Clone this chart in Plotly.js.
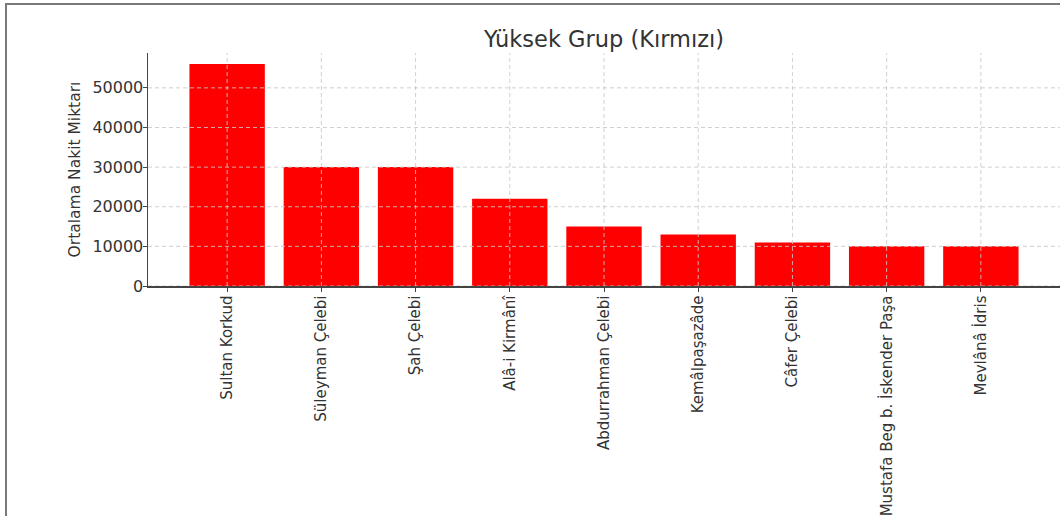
<!DOCTYPE html>
<html>
<head>
<meta charset="utf-8">
<script src="https://cdn.plot.ly/plotly-3.0.1.min.js"></script>
<style>
html,body{margin:0;padding:0;background:#fff;overflow:hidden;}
#plot{position:absolute;left:0;top:0;width:1060px;height:516px;}
#frame{position:absolute;left:5px;top:3px;width:1100px;height:600px;border-top:2px solid #7a7a7a;border-left:2px solid #7a7a7a;pointer-events:none;}
</style>
</head>
<body>
<div id="plot"></div>
<div id="frame"></div>
<script>
const categories = ["Sultan Korkud","Süleyman Çelebi","Şah Çelebi","Alâ-i Kirmânî","Abdurrahman Çelebi","Kemâlpaşazâde","Câfer Çelebi","Mustafa Beg b. İskender Paşa","Mevlânâ İdris"];
const values = [56000, 30000, 30000, 22000, 15000, 13000, 11000, 10000, 10000];
const yTicks = [0, 10000, 20000, 30000, 40000, 50000];
const chartTitle = "Yüksek Grup (Kırmızı)";
const yTitle = "Ortalama Nakit Miktarı";

const gridStyle = {color: "rgba(200,200,200,0.85)", width: 1, dash: "4px,3px"};
const shapes = [];
yTicks.forEach(v => shapes.push({type: "line", xref: "paper", x0: 0, x1: 1, yref: "y", y0: v, y1: v, line: gridStyle, layer: "above"}));
categories.forEach((c, i) => shapes.push({type: "line", xref: "x", x0: i, x1: i, yref: "paper", y0: 0, y1: 1, line: gridStyle, layer: "above"}));

const n = categories.length;
const ymax = Math.max(...values) * 1.05;

Plotly.newPlot("plot", [{
  type: "bar",
  x: categories,
  y: values,
  width: 0.8,
  marker: {color: "#ff0000", line: {width: 0}},
  hoverinfo: "x+y"
}], {
  width: 1060, height: 516,
  margin: {l: 148, r: 0, t: 53, b: 230, pad: 0},
  paper_bgcolor: "#ffffff", plot_bgcolor: "#ffffff",
  font: {family: "DejaVu Sans, sans-serif", color: "#333"},
  title: {text: chartTitle, font: {size: 22.5, color: "#333"}, xref: "paper", x: 0.5, xanchor: "center", yref: "container", y: 1 - 39/516, yanchor: "middle"},
  showlegend: false,
  bargap: 0.2,
  xaxis: {
    type: "category",
    range: [-0.84, n - 1 + 0.84],
    tickangle: -90,
    tickfont: {size: 15, color: "#333"},
    showgrid: false,
    showline: true, linecolor: "#444", linewidth: 1.5,
    ticks: "outside", ticklen: 4, tickcolor: "#444", tickwidth: 1,
    ticklabelstandoff: -2,
    zeroline: false,
    automargin: false
  },
  yaxis: {
    range: [0, ymax],
    tickvals: yTicks,
    ticktext: yTicks.map(String),
    tickfont: {size: 16, color: "#333"},
    title: {text: yTitle, font: {size: 15.5, color: "#333"}, standoff: 8},
    showgrid: false,
    showline: true, linecolor: "#444", linewidth: 1.5,
    ticks: "outside", ticklen: 4, tickcolor: "#444", tickwidth: 1,
    ticklabelstandoff: -4,
    zeroline: false,
    automargin: false
  },
  shapes: shapes
}, {displayModeBar: false, staticPlot: true});
</script>
</body>
</html>
